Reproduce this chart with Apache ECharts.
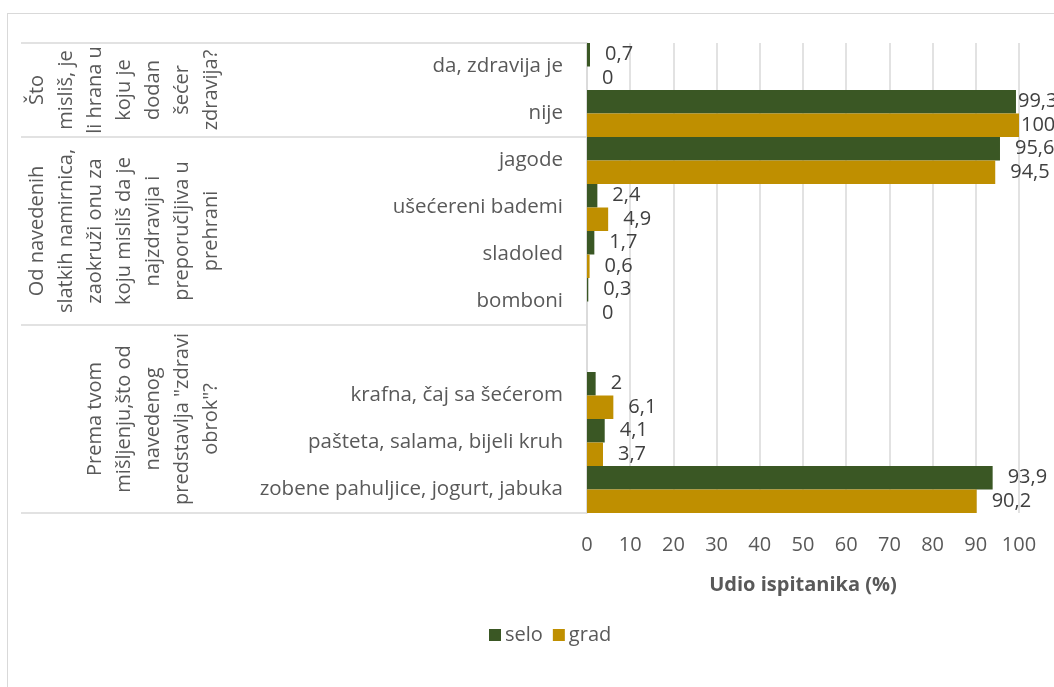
<!DOCTYPE html>
<html>
<head>
<meta charset="utf-8">
<script src="https://cdn.jsdelivr.net/npm/echarts@6/dist/echarts.min.js"></script>
<style>
  html, body { margin: 0; padding: 0; background: #fff; }
  #frame { position: absolute; left: 7px; top: 13px; width: 1200px; height: 800px; border: 1.5px solid #d9d9d9; box-sizing: border-box; }
  #chart { position: absolute; left: 0; top: 0; width: 1054px; height: 687px; }
</style>
</head>
<body>
<div id="frame"></div>
<div id="chart"></div>
<script>
// ---- data ----
const categories = [
  'da, zdravija je', 'nije',
  'jagode', 'ušećereni bademi', 'sladoled', 'bomboni',
  '', 'krafna, čaj sa šećerom', 'pašteta, salama, bijeli kruh', 'zobene pahuljice, jogurt, jabuka'
];
const seloValues = [0.7, 99.3, 95.6, 2.4, 1.7, 0.3, null, 2, 4.1, 93.9];
const gradValues = [0, 100, 94.5, 4.9, 0.6, 0, null, 6.1, 3.7, 90.2];
const groupLabels = [
  'Što\nmisliš, je\nli hrana u\nkoju je\ndodan\nšećer\nzdravija?',
  'Od navedenih\nslatkih namirnica,\nzaokruži onu za\nkoju misliš da je\nnajzdravija i\npreporučljiva u\nprehrani',
  'Prema tvom\nmišljenju,što od\nnavedenog\npredstavlja "zdravi\nobrok"?'
];
const groupSizes = [2, 4, 4];
const seriesNames = ['selo', 'grad'];
const xTicks = [0, 10, 20, 30, 40, 50, 60, 70, 80, 90, 100];

// ---- derived group positions (in category units) ----
const groupBounds = [0];
groupSizes.forEach(s => groupBounds.push(groupBounds[groupBounds.length - 1] + s));
const groupCenters = groupSizes.map((s, i) => groupBounds[i] + s / 2);

const FONT = 'Open Sans';
const fmt = v => String(v).replace('.', ',');

function makeData(values) {
  return values.map(v => v === null ? null : {
    value: v,
    label: { distance: v >= 98 ? 2 : 15 }
  });
}

const chart = echarts.init(document.getElementById('chart'));
chart.setOption({
  animation: false,
  textStyle: { fontFamily: FONT },
  grid: { left: 587, right: 35, top: 43, bottom: 174, containLabel: false },
  legend: {
    data: seriesNames,
    left: 484, top: 620,
    icon: 'rect', itemWidth: 12, itemHeight: 12, itemGap: 10,
    textStyle: { fontFamily: FONT, fontSize: 20, color: '#595959', padding: [0, 0, 0, -1] }
  },
  xAxis: {
    type: 'value', min: xTicks[0], max: xTicks[xTicks.length - 1], interval: 10,
    axisLine: { show: false }, axisTick: { show: false },
    axisLabel: { fontFamily: FONT, fontSize: 20, color: '#595959', margin: 22 },
    splitLine: { lineStyle: { color: '#d9d9d9', width: 1.5 } },
    name: 'Udio ispitanika (%)', nameLocation: 'middle', nameGap: 62,
    nameTextStyle: { fontFamily: FONT, fontSize: 20, fontWeight: 'bold', color: '#595959' }
  },
  yAxis: [
    {
      type: 'category', data: categories, inverse: true, position: 'left',
      axisLine: { show: false }, axisTick: { show: false },
      axisLabel: { fontFamily: FONT, fontSize: 20.5, color: '#595959', margin: 24 }
    },
    {
      type: 'value', min: 0, max: categories.length, inverse: true, position: 'left',
      axisLine: { show: true, lineStyle: { color: '#d9d9d9', width: 1.5 } },
      axisTick: { show: true, customValues: groupBounds, length: 566, lineStyle: { color: '#d9d9d9', width: 1.5 } },
      splitLine: { show: false },
      axisLabel: {
        customValues: groupCenters, rotate: 90, margin: 361,
        fontFamily: FONT, fontSize: 20, color: '#595959', lineHeight: 29, align: 'center',
        formatter: v => { const i = groupCenters.indexOf(v); return i >= 0 ? groupLabels[i] : ''; }
      }
    }
  ],
  series: [
    {
      name: seriesNames[0], type: 'bar', yAxisIndex: 0, data: makeData(seloValues),
      barGap: '0%', barCategoryGap: '0%',
      itemStyle: { color: '#3a5724' },
      label: { show: true, position: 'right', fontFamily: FONT, fontSize: 20, color: '#404040', formatter: p => fmt(p.value) }
    },
    {
      name: seriesNames[1], type: 'bar', yAxisIndex: 0, data: makeData(gradValues),
      barGap: '0%', barCategoryGap: '0%',
      itemStyle: { color: '#bf8f00' },
      label: { show: true, position: 'right', fontFamily: FONT, fontSize: 20, color: '#404040', formatter: p => fmt(p.value) }
    }
  ]
});
</script>
</body>
</html>
